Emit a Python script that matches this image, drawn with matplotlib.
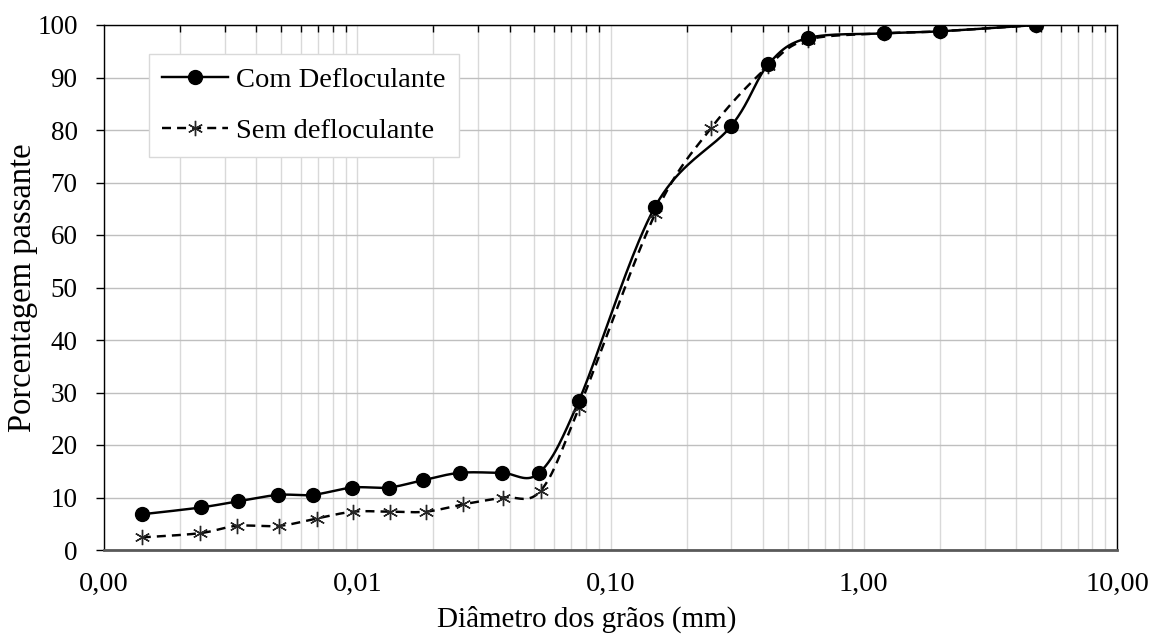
import numpy as np
import matplotlib
matplotlib.use('Agg')
from matplotlib import pyplot as plt
from matplotlib.lines import Line2D
from matplotlib.ticker import FixedLocator, FixedFormatter, LogLocator, NullFormatter

plt.rcParams['font.family'] = ['Liberation Serif', 'DejaVu Serif']

# dados
diam_com = [0.00141, 0.00241, 0.00339, 0.00488, 0.00667, 0.00955, 0.0133, 0.0182, 0.0254,
            0.0372, 0.0523, 0.075, 0.15, 0.30, 0.42, 0.60, 1.2, 2.0, 4.8]
pass_com = [6.8, 8.1, 9.3, 10.5, 10.5, 11.9, 11.9, 13.3, 14.7,
            14.7, 14.7, 28.4, 65.4, 80.8, 92.5, 97.5, 98.4, 98.8, 100.0]

diam_sem = [0.00141, 0.00239, 0.00334, 0.00492, 0.00691, 0.00964, 0.0135, 0.0187, 0.0262,
            0.0375, 0.0530, 0.075, 0.15, 0.25, 0.42, 0.60, 1.2, 2.0, 4.8]
pass_sem = [2.4, 3.2, 4.6, 4.6, 6.0, 7.3, 7.3, 7.3, 8.7,
            10.0, 11.3, 27.0, 64.0, 80.4, 92.2, 97.2, 98.4, 98.8, 100.0]

x_ticks = [0.001, 0.01, 0.1, 1, 10]
x_ticklabels = ['0,00', '0,01', '0,10', '1,00', '10,00']
y_ticks = list(range(0, 101, 10))

tracejado = (0, (3.7, 2.5))


def suavizar(ax, xs, ys, n=40):
    # curva suave estilo Excel (Bezier com tensao 1/6) em coordenadas de tela
    p = ax.transData.transform(np.column_stack([xs, ys]))
    p = np.vstack([p[0], p, p[-1]])
    out = []
    t = np.linspace(0, 1, n)[:, None]
    for i in range(1, len(p) - 2):
        p0, p3 = p[i], p[i + 1]
        p1 = p0 + (p[i + 1] - p[i - 1]) / 6
        p2 = p3 - (p[i + 2] - p[i]) / 6
        seg = (1 - t) ** 3 * p0 + 3 * (1 - t) ** 2 * t * p1 + 3 * (1 - t) * t ** 2 * p2 + t ** 3 * p3
        out.append(seg)
    out = np.vstack(out)
    d = ax.transData.inverted().transform(out)
    return d[:, 0], d[:, 1]


fig = plt.figure(figsize=(11.5, 6.4), dpi=100)
ax = fig.add_axes([104 / 1150, 90 / 640, 1013 / 1150, 525 / 640])

ax.set_xscale('log')
ax.set_xlim(0.001, 10)
ax.set_ylim(0, 100)

ax.xaxis.set_major_locator(FixedLocator(x_ticks))
ax.xaxis.set_major_formatter(FixedFormatter(x_ticklabels))
ax.xaxis.set_minor_locator(LogLocator(base=10, subs=np.arange(2, 10)))
ax.xaxis.set_minor_formatter(NullFormatter())
ax.set_yticks(y_ticks)

ax.grid(which='major', axis='y', color='#bfbfbf', linewidth=1.0)
ax.grid(which='both', axis='x', color='#d9d9d9', linewidth=1.0)
ax.set_axisbelow(True)

for s in ['left', 'top', 'right']:
    ax.spines[s].set_color('black')
    ax.spines[s].set_linewidth(1.0)
ax.spines['bottom'].set_color('#595959')
ax.spines['bottom'].set_linewidth(2.0)

ax.tick_params(axis='x', which='both', bottom=False, top=False, labelsize=20.5, pad=12)
ax.tick_params(axis='x', which='minor', top=True, direction='in', length=5, width=1, color='black')
ax.tick_params(axis='y', which='major', left=True, direction='out', length=6, width=1,
               labelsize=19.5, pad=13)

ax.set_xlabel('Diâmetro dos grãos (mm)', fontsize=21)
ax.xaxis.set_label_coords((587 - 104) / 1013, -(606 - 550) / 525)
ax.set_ylabel('Porcentagem passante', fontsize=23.5)
ax.yaxis.set_label_coords(-(104 - 38) / 1013, 0.5)

xs, ys = suavizar(ax, diam_com, pass_com)
ax.plot(xs, ys, color='black', linewidth=1.75, linestyle='-', zorder=3)
ax.plot(diam_com, pass_com, linestyle='none', marker='o', markersize=10, color='black', zorder=4)

xs, ys = suavizar(ax, diam_sem, pass_sem)
ax.plot(xs, ys, color='black', linewidth=1.75, linestyle=tracejado, zorder=3)
ax.plot(diam_sem, pass_sem, linestyle='none', marker=(6, 2, 0), markersize=11,
        markeredgewidth=1, color='#262626', zorder=3.5)

handles = [
    Line2D([], [], color='black', linewidth=1.75, marker='o', markersize=10, label='Com Defloculante'),
    Line2D([], [], color='black', linewidth=1.75, linestyle=tracejado, marker=(6, 2, 0), markersize=11,
           markeredgewidth=1, markeredgecolor='#262626', label='Sem defloculante'),
]
leg = ax.legend(handles=handles, loc='upper left', bbox_to_anchor=(0.0444, 0.9448), borderaxespad=0,
                fontsize=20.5, frameon=True, fancybox=False, framealpha=1, edgecolor='#d9d9d9',
                handlelength=2.3, handletextpad=0.3, labelspacing=0.86, borderpad=0.47, numpoints=1)
leg.get_frame().set_linewidth(1.0)

fig.savefig('out.png', dpi=100)
